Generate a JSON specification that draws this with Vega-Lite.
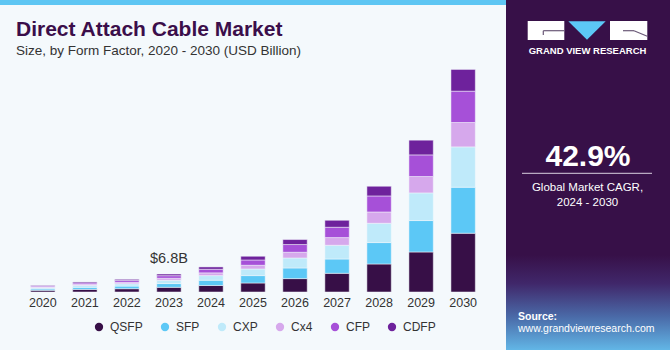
{
  "$schema": "https://vega.github.io/schema/vega-lite/v6.json",
  "padding": 0,
  "spacing": 0,
  "background": "#F4F9FC",
  "config": {
    "view": {"stroke": null},
    "font": "Liberation Sans"
  },
  "datasets": {
    "market": [
      {"year": "2020", "segment": "QSFP", "value": 0.65},
      {"year": "2020", "segment": "SFP", "value": 0.52},
      {"year": "2020", "segment": "CXP", "value": 0.46},
      {"year": "2020", "segment": "Cx4", "value": 0.27},
      {"year": "2020", "segment": "CFP", "value": 0.37},
      {"year": "2020", "segment": "CDFP", "value": 0.23},
      {"year": "2021", "segment": "QSFP", "value": 0.99},
      {"year": "2021", "segment": "SFP", "value": 0.79},
      {"year": "2021", "segment": "CXP", "value": 0.70},
      {"year": "2021", "segment": "Cx4", "value": 0.42},
      {"year": "2021", "segment": "CFP", "value": 0.55},
      {"year": "2021", "segment": "CDFP", "value": 0.36},
      {"year": "2022", "segment": "QSFP", "value": 1.25},
      {"year": "2022", "segment": "SFP", "value": 1.00},
      {"year": "2022", "segment": "CXP", "value": 0.89},
      {"year": "2022", "segment": "Cx4", "value": 0.53},
      {"year": "2022", "segment": "CFP", "value": 0.69},
      {"year": "2022", "segment": "CDFP", "value": 0.45},
      {"year": "2023", "segment": "QSFP", "value": 1.78},
      {"year": "2023", "segment": "SFP", "value": 1.42},
      {"year": "2023", "segment": "CXP", "value": 1.26},
      {"year": "2023", "segment": "Cx4", "value": 0.75},
      {"year": "2023", "segment": "CFP", "value": 0.98},
      {"year": "2023", "segment": "CDFP", "value": 0.64},
      {"year": "2024", "segment": "QSFP", "value": 2.48},
      {"year": "2024", "segment": "SFP", "value": 1.98},
      {"year": "2024", "segment": "CXP", "value": 1.76},
      {"year": "2024", "segment": "Cx4", "value": 1.05},
      {"year": "2024", "segment": "CFP", "value": 1.36},
      {"year": "2024", "segment": "CDFP", "value": 0.89},
      {"year": "2025", "segment": "QSFP", "value": 3.42},
      {"year": "2025", "segment": "SFP", "value": 2.81},
      {"year": "2025", "segment": "CXP", "value": 2.51},
      {"year": "2025", "segment": "Cx4", "value": 1.41},
      {"year": "2025", "segment": "CFP", "value": 2.01},
      {"year": "2025", "segment": "CDFP", "value": 1.41},
      {"year": "2026", "segment": "QSFP", "value": 5.09},
      {"year": "2026", "segment": "SFP", "value": 4.03},
      {"year": "2026", "segment": "CXP", "value": 3.80},
      {"year": "2026", "segment": "Cx4", "value": 2.17},
      {"year": "2026", "segment": "CFP", "value": 2.93},
      {"year": "2026", "segment": "CDFP", "value": 1.90},
      {"year": "2027", "segment": "QSFP", "value": 7.10},
      {"year": "2027", "segment": "SFP", "value": 5.43},
      {"year": "2027", "segment": "CXP", "value": 5.21},
      {"year": "2027", "segment": "Cx4", "value": 2.93},
      {"year": "2027", "segment": "CFP", "value": 3.91},
      {"year": "2027", "segment": "CDFP", "value": 2.66},
      {"year": "2028", "segment": "QSFP", "value": 10.64},
      {"year": "2028", "segment": "SFP", "value": 8.13},
      {"year": "2028", "segment": "CXP", "value": 7.33},
      {"year": "2028", "segment": "Cx4", "value": 4.29},
      {"year": "2028", "segment": "CFP", "value": 6.08},
      {"year": "2028", "segment": "CDFP", "value": 3.69},
      {"year": "2029", "segment": "QSFP", "value": 15.20},
      {"year": "2029", "segment": "SFP", "value": 11.93},
      {"year": "2029", "segment": "CXP", "value": 10.49},
      {"year": "2029", "segment": "Cx4", "value": 6.23},
      {"year": "2029", "segment": "CFP", "value": 8.21},
      {"year": "2029", "segment": "CDFP", "value": 5.59},
      {"year": "2030", "segment": "QSFP", "value": 22.31},
      {"year": "2030", "segment": "SFP", "value": 17.48},
      {"year": "2030", "segment": "CXP", "value": 15.31},
      {"year": "2030", "segment": "Cx4", "value": 9.27},
      {"year": "2030", "segment": "CFP", "value": 11.89},
      {"year": "2030", "segment": "CDFP", "value": 8.25}
    ],
    "note": [{"year": "2023", "total": 6.83, "label": "$6.8B"}]
  },
  "hconcat": [
    {
      "spacing": 13,
      "vconcat": [
        {
          "width": 506,
          "height": 5,
          "view": {"fill": "#5EC6F3"},
          "data": {"values": []},
          "mark": "rect",
          "encoding": {}
        },
        {
          "width": 506,
          "height": 227,
          "title": {
            "text": "Direct Attach Cable Market",
            "subtitle": "Size, by Form Factor, 2020 - 2030 (USD Billion)",
            "anchor": "start",
            "dx": 16,
            "offset": 8,
            "font": "Liberation Sans",
            "fontSize": 21,
            "fontWeight": "bold",
            "color": "#3B0E4A",
            "subtitleFont": "Liberation Sans",
            "subtitleFontSize": 13.5,
            "subtitleColor": "#333333",
            "subtitlePadding": 4
          },
          "layer": [
            {
              "data": {"name": "market"},
              "transform": [
                {"calculate": "indexof(['QSFP','SFP','CXP','Cx4','CFP','CDFP'], datum.segment)", "as": "stackRank"}
              ],
              "mark": {"type": "bar", "stroke": "#F4F9FC", "strokeWidth": 0.5},
              "encoding": {
                "x": {
                  "field": "year",
                  "type": "ordinal",
                  "scale": {"paddingInner": 0.42, "paddingOuter": 0.73},
                  "axis": {
                    "title": null,
                    "labelAngle": 0,
                    "domain": false,
                    "ticks": false,
                    "labelPadding": 4,
                    "labelFont": "Liberation Sans",
                    "labelFontSize": 12.5,
                    "labelColor": "#333333"
                  }
                },
                "y": {
                  "field": "value",
                  "type": "quantitative",
                  "stack": "zero",
                  "scale": {"domain": [0, 86.2], "nice": false},
                  "axis": null
                },
                "order": {"field": "stackRank", "type": "quantitative", "sort": "ascending"},
                "color": {
                  "field": "segment",
                  "type": "nominal",
                  "sort": ["QSFP", "SFP", "CXP", "Cx4", "CFP", "CDFP"],
                  "scale": {
                    "domain": ["QSFP", "SFP", "CXP", "Cx4", "CFP", "CDFP"],
                    "range": ["#370F47", "#5CC8F6", "#BFEAFA", "#D6A8EC", "#A650D8", "#6E229C"]
                  },
                  "legend": {
                    "orient": "none",
                    "legendX": 93,
                    "legendY": 321,
                    "direction": "horizontal",
                    "title": null,
                    "symbolType": "circle",
                    "symbolSize": 69,
                    "symbolStrokeWidth": 0,
                    "labelFont": "Liberation Sans",
                    "labelFontSize": 12,
                    "labelColor": "#333333",
                    "labelOffset": 5,
                    "columnPadding": 16,
                    "padding": 0
                  }
                }
              }
            },
            {
              "data": {"name": "note"},
              "mark": {"type": "text", "baseline": "alphabetic", "dy": -11.3, "fontSize": 14.5, "font": "Liberation Sans", "color": "#333333"},
              "encoding": {
                "x": {"field": "year", "type": "ordinal"},
                "y": {"field": "total", "type": "quantitative"},
                "text": {"field": "label"}
              }
            }
          ]
        }
      ]
    },
    {
      "width": 164,
      "height": 350,
      "view": {"fill": "#371048"},
      "layer": [
        {
          "data": {"values": [{}]},
          "mark": {"type": "rect", "fill": {"gradient": "linear", "x1": 0, "y1": 0, "x2": 0, "y2": 1, "stops": [{"offset": 0, "color": "#371048"}, {"offset": 0.3, "color": "#40276A"}, {"offset": 0.65, "color": "#4A6AA8"}, {"offset": 1, "color": "#62B6E6"}]}},
          "encoding": {
            "x": {"datum": 0, "type": "quantitative", "scale": {"domain": [0, 164], "nice": false, "zero": false}, "axis": null},
            "x2": {"datum": 164},
            "y": {"datum": 255, "type": "quantitative", "scale": {"domain": [0, 350], "nice": false, "zero": false, "reverse": true}, "axis": null},
            "y2": {"datum": 350}
          }
        },
        {
          "data": {"values": [{}]},
          "mark": {"type": "rect", "fill": "#FFFFFF"},
          "encoding": {
            "x": {"datum": 21.7, "type": "quantitative"},
            "x2": {"datum": 58.3},
            "y": {"datum": 21, "type": "quantitative"},
            "y2": {"datum": 40}
          }
        },
        {
          "data": {"values": [{}]},
          "mark": {"type": "rect", "fill": "#FFFFFF"},
          "encoding": {
            "x": {"datum": 104, "type": "quantitative"},
            "x2": {"datum": 141.3},
            "y": {"datum": 21, "type": "quantitative"},
            "y2": {"datum": 40}
          }
        },
        {
          "data": {"values": [{}]},
          "mark": {"type": "rule", "stroke": "#6B5A78", "strokeWidth": 1.2},
          "encoding": {
            "x": {"datum": 37.3, "type": "quantitative"},
            "x2": {"datum": 58.3},
            "y": {"datum": 30.7, "type": "quantitative"},
            "y2": {"datum": 30.7}
          }
        },
        {
          "data": {"values": [{}]},
          "mark": {"type": "rule", "stroke": "#6B5A78", "strokeWidth": 1.2},
          "encoding": {
            "x": {"datum": 37.3, "type": "quantitative"},
            "x2": {"datum": 37.3},
            "y": {"datum": 30.7, "type": "quantitative"},
            "y2": {"datum": 35}
          }
        },
        {
          "data": {"values": [{}]},
          "mark": {"type": "rule", "stroke": "#6B5A78", "strokeWidth": 1.2},
          "encoding": {
            "x": {"datum": 117, "type": "quantitative"},
            "x2": {"datum": 128},
            "y": {"datum": 30.7, "type": "quantitative"},
            "y2": {"datum": 30.7}
          }
        },
        {
          "data": {"values": [{}]},
          "mark": {"type": "rule", "stroke": "#6B5A78", "strokeWidth": 1.2},
          "encoding": {
            "x": {"datum": 128, "type": "quantitative"},
            "x2": {"datum": 141.3},
            "y": {"datum": 30.7, "type": "quantitative"},
            "y2": {"datum": 36.2}
          }
        },
        {
          "data": {"values": [{}]},
          "mark": {"type": "point", "shape": "M-1,-0.5L1,-0.5L0,0.5Z", "filled": true, "fill": "#5CC8F6", "opacity": 1, "size": 1400, "strokeWidth": 0},
          "encoding": {
            "x": {"datum": 81, "type": "quantitative"},
            "y": {"datum": 30.5, "type": "quantitative"}
          }
        },
        {
          "data": {"values": [{"t": "GRAND VIEW RESEARCH"}]},
          "mark": {"type": "text", "align": "center", "baseline": "alphabetic", "fontSize": 9.5, "fontWeight": "bold", "color": "#FFFFFF", "font": "Liberation Sans"},
          "encoding": {
            "x": {"datum": 81.5, "type": "quantitative"},
            "y": {"datum": 53.7, "type": "quantitative"},
            "text": {"field": "t"}
          }
        },
        {
          "data": {"values": [{"t": "42.9%"}]},
          "mark": {"type": "text", "align": "center", "baseline": "alphabetic", "fontSize": 30, "fontWeight": "bold", "color": "#FFFFFF", "font": "Liberation Sans"},
          "encoding": {
            "x": {"datum": 82, "type": "quantitative"},
            "y": {"datum": 166, "type": "quantitative"},
            "text": {"field": "t"}
          }
        },
        {
          "data": {"values": [{}]},
          "mark": {"type": "rule", "stroke": "#D9D0E0", "strokeWidth": 1},
          "encoding": {
            "x": {"datum": 16, "type": "quantitative"},
            "x2": {"datum": 146},
            "y": {"datum": 173.3, "type": "quantitative"},
            "y2": {"datum": 173.3}
          }
        },
        {
          "data": {"values": [{"t": "Global Market CAGR,"}]},
          "mark": {"type": "text", "align": "center", "baseline": "alphabetic", "fontSize": 11.5, "color": "#FFFFFF", "font": "Liberation Sans"},
          "encoding": {
            "x": {"datum": 81.5, "type": "quantitative"},
            "y": {"datum": 190.5, "type": "quantitative"},
            "text": {"field": "t"}
          }
        },
        {
          "data": {"values": [{"t": "2024 - 2030"}]},
          "mark": {"type": "text", "align": "center", "baseline": "alphabetic", "fontSize": 11.5, "color": "#FFFFFF", "font": "Liberation Sans"},
          "encoding": {
            "x": {"datum": 81.5, "type": "quantitative"},
            "y": {"datum": 205.5, "type": "quantitative"},
            "text": {"field": "t"}
          }
        },
        {
          "data": {"values": [{"t": "Source:"}]},
          "mark": {"type": "text", "align": "left", "baseline": "alphabetic", "fontSize": 10.5, "fontWeight": "bold", "color": "#FFFFFF", "font": "Liberation Sans"},
          "encoding": {
            "x": {"datum": 12, "type": "quantitative"},
            "y": {"datum": 320, "type": "quantitative"},
            "text": {"field": "t"}
          }
        },
        {
          "data": {"values": [{"t": "www.grandviewresearch.com"}]},
          "mark": {"type": "text", "align": "left", "baseline": "alphabetic", "fontSize": 10.5, "color": "#FFFFFF", "font": "Liberation Sans"},
          "encoding": {
            "x": {"datum": 12, "type": "quantitative"},
            "y": {"datum": 332, "type": "quantitative"},
            "text": {"field": "t"}
          }
        }
      ]
    }
  ]
}
